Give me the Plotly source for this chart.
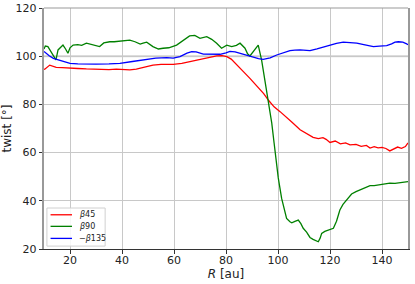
import plotly.graph_objects as go

# twist profiles vs radius
r_b45 = [10, 10.3, 12.2, 14.7, 17, 19.9, 23, 26.3, 29.5, 32.7, 35, 37.8, 40, 43, 45.5, 48.1,
         51.9, 55, 59.7, 63, 66.2, 69.5, 72.6, 76.4, 78.5, 80.3, 82, 84.1, 86.5, 89.2, 92,
         94.5, 96.5, 98.5, 100.8, 103, 105.5, 108.5, 111, 113.5, 115.5, 117.3, 118.5, 120,
         122, 124, 126, 127.7, 130, 132, 134, 135.4, 137, 138.5, 140, 141.5, 143, 144.5,
         146, 147.5, 149, 150]
b45 = [94.5, 94.6, 96.3, 95.4, 95.3, 95.0, 94.9, 94.7, 94.5, 94.3, 94.4, 94.6, 94.5, 94.3,
       94.6, 95.2, 96.3, 96.6, 96.6, 97.0, 97.7, 98.5, 99.4, 100.1, 100.2, 99.8, 98.8, 96.3,
       93.8, 90.8, 87.5, 84.5, 81.5, 79.0, 77.0, 75.0, 72.5, 69.5, 68.0, 66.3, 65.8, 66.2,
       65.5, 64.2, 64.8, 63.6, 64.0, 63.2, 63.4, 62.6, 63.0, 61.9, 62.5, 62.0, 62.2, 61.7,
       60.7, 61.5, 62.3, 61.8, 62.5, 64.0]

r_b90 = [10, 10.5, 11.5, 12.8, 14.1, 14.6, 15.4, 17.3, 18.3, 19.2, 20, 21.2, 23, 24.5, 26.3,
         28, 29.5, 31.4, 33, 35.3, 37, 39, 41, 43, 45, 47, 48.1, 49.5, 51.9, 54, 55.8, 58,
         61, 63.5, 66, 68, 70, 72.6, 74.5, 76.4, 78.3, 80.3, 82.2, 84, 85.4, 87.3, 88.3,
         89.2, 90.2, 91.2, 92.4, 93.7, 95, 96.3, 97.6, 98.5, 99.2, 100.1, 101.4, 102.7,
         103.3, 104.6, 105.3, 106.5, 107.8, 108.8, 109.7, 111, 112.3, 113.5, 115.5, 116.2,
         116.8, 118, 119.3, 121.3, 122.5, 123.8, 125, 126.4, 128.3, 130, 131.5, 133.5,
         135.4, 137, 139.2, 141, 143, 145, 147, 149.5, 150]
b90 = [103.0, 104.2, 104.0, 101.9, 99.8, 98.5, 102.6, 104.6, 103.0, 101.2, 103.5, 104.6,
       104.8, 104.5, 105.4, 105.0, 104.6, 104.0, 105.5, 106.0, 106.0, 106.3, 106.5, 106.7,
       106.0, 105.0, 105.4, 105.8, 104.0, 103.0, 103.3, 103.5, 104.6, 106.5, 108.4, 108.6,
       107.4, 108.1, 107.0, 105.4, 103.3, 104.6, 104.0, 104.5, 105.4, 103.3, 101.0, 100.1,
       101.5, 102.6, 104.6, 98.4, 90.1, 81.8, 72.2, 64.0, 57.0, 49.5, 41.0, 34.6, 32.7,
       31.3, 30.9, 31.5, 32.0, 30.5, 28.6, 27.0, 24.8, 24.0, 23.0, 24.5, 26.5, 27.3, 27.9,
       28.6, 31.5, 36.2, 38.5, 40.3, 42.8, 43.8, 44.5, 45.5, 46.3, 46.3, 46.6, 46.8, 47.3,
       47.2, 47.6, 47.9, 48.0]

r_b135 = [10, 11, 12, 13.6, 16, 18, 20, 23, 26.4, 30, 35, 39.2, 44, 49.5, 53, 57.2, 59.7,
          62.3, 63.6, 65, 66.8, 68.5, 71.3, 74.5, 77.7, 80, 81.5, 83.5, 85.4, 88, 90.5,
          92.5, 94.3, 97, 99.5, 102, 104.6, 106.5, 108.5, 111, 112.3, 115, 117.5, 120,
          122.5, 125.1, 127.5, 130.3, 133, 136.7, 139, 141.8, 143.7, 145, 146.3, 148,
          149.5, 150]
b135 = [102.0, 101.0, 100.2, 99.1, 98.2, 97.5, 97.0, 96.8, 96.6, 96.7, 96.8, 97.0, 97.8,
        98.7, 99.2, 99.4, 99.2, 99.8, 100.5, 101.3, 101.9, 101.8, 100.9, 100.7, 100.8,
        101.4, 102.0, 101.8, 101.2, 100.5, 99.5, 99.0, 98.7, 99.3, 100.5, 101.5, 102.3,
        102.5, 102.6, 102.4, 102.3, 103.0, 103.8, 104.6, 105.3, 105.8, 105.7, 105.4,
        104.8, 104.0, 104.2, 104.4, 105.1, 105.8, 106.0, 105.8, 105.1, 104.8]

names = ['<i>β</i>45', '<i>β</i>90', '−<i>β</i>135']
colors = ['red', 'green', 'blue']
x_ticks = [20, 40, 60, 80, 100, 120, 140]
y_ticks = [20, 40, 60, 80, 100, 120]

fig = go.Figure()
for rr, vv, nm, col in zip([r_b45, r_b90, r_b135], [b45, b90, b135], names, colors):
    fig.add_trace(go.Scatter(x=rr, y=vv, mode='lines', name=nm, showlegend=False,
                             line=dict(color=col, width=1.3)))

# light reference line at 100 deg
fig.add_hline(y=100, line=dict(color='#dcdcdc', width=2.2), layer='below')
# top spine
fig.add_shape(type='line', xref='paper', yref='paper', x0=0, x1=1, y0=1, y1=1,
              line=dict(color='#999999', width=1.2))

# compact legend box (plotly's own legend rows are too tall at this size)
fig.add_shape(type='rect', xref='paper', yref='paper', x0=0.008, x1=0.168, y0=0.012, y1=0.17,
              line=dict(color='#d0d0d0', width=1), fillcolor='rgba(255,255,255,0.85)')
leg_y = [0.142, 0.094, 0.044]
for ly, nm, col in zip(leg_y, names, colors):
    fig.add_shape(type='line', xref='paper', yref='paper', x0=0.018, x1=0.077, y0=ly, y1=ly,
                  line=dict(color=col, width=1.3))
    fig.add_annotation(xref='paper', yref='paper', x=0.09, y=ly, text=nm, showarrow=False,
                       xanchor='left', yanchor='middle', font=dict(size=8, color='#222'))

fig.update_layout(
    width=415, height=284,
    margin=dict(l=44, r=7, t=8, b=35),
    plot_bgcolor='white', paper_bgcolor='white',
    font=dict(family='DejaVu Sans', size=11, color='#222'),
    showlegend=False,
)
fig.update_xaxes(range=[10, 150], tickvals=x_ticks, showgrid=True, gridcolor='#c8c8c8',
                 gridwidth=1, zeroline=False, showline=True, linecolor='#333', linewidth=1.2,
                 ticks='outside', ticklen=3.5, tickcolor='#333', automargin=False,
                 ticklabelstandoff=-3,
                 title=dict(text='<i>R</i> [au]', standoff=0, font=dict(size=12)))
fig.update_yaxes(range=[20, 120], tickvals=y_ticks, showgrid=True, gridcolor='#c8c8c8',
                 gridwidth=1, zeroline=False, showline=True, linecolor='#999999',
                 linewidth=1.5, mirror=True, ticks='outside', ticklen=3.5, tickcolor='#333',
                 automargin=False,
                 title=dict(text='twist [°]', standoff=4, font=dict(size=12)))

# drop the default page margin so the figure fills the window
fig.write_html("out.html", config={'displayModeBar': False},
               post_script="document.body.style.margin='0';")
